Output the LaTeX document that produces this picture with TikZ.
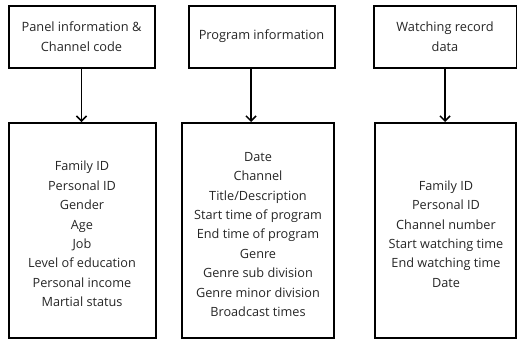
\documentclass[tikz,border=0pt]{standalone}
\usepackage{fontspec}
\setmainfont{Open Sans}
\usetikzlibrary{arrows.meta}

\tikzset{
    headbox/.style={draw, line width=2pt, minimum width=146pt, minimum height=62pt,
        align=center, inner sep=0pt, font=\fontsize{12.8}{20}\selectfont},
    listbox/.style={draw, line width=2pt, inner sep=0pt},
    listtext/.style={align=center, inner sep=0pt, text=black!85,
        font=\fontsize{12.7}{19.4}\selectfont},
    feed/.style={line width=1.5pt, -{Straight Barb[length=5pt,width=10pt,line width=1.5pt]}}
}

\begin{document}
\begin{tikzpicture}[x=1pt, y=-1pt]
    \useasboundingbox (0,0) rectangle (517,348);

    % Source boxes
    \node[headbox, text=black!85] (panel) at (81.5,36.5) {Panel information \&\\Channel code};
    \node[headbox, text=black!85] (program) at (261.5,36.5) {Program information};
    \node[headbox, text=black!85, minimum width=143pt] (watch) at (445,36.5) {Watching record\\data};

    % Item boxes
    \node[listbox, minimum width=147pt, minimum height=215pt] (panelbox) at (82.5,230.5) {};
    \node[listbox, minimum width=152pt, minimum height=215pt] (programbox) at (258,230.5) {};
    \node[listbox, minimum width=141pt, minimum height=215pt] (watchbox) at (445.5,230.5) {};

    % Item lists
    \node[listtext] (panellist) at (82,234)
        {Family ID\\Personal ID\\Gender\\Age\\Job\\Level of education\\Personal income\\Martial status};
    \node[listtext] (programlist) at (258,234.5)
        {Date\\Channel\\Title/Description\\Start time of program\\End time of program\\Genre\\Genre sub division\\Genre minor division\\Broadcast times};
    \node[listtext] (watchlist) at (446,234)
        {Family ID\\Personal ID\\Channel number\\Start watching time\\End watching time\\Date};

    % Arrows
    \draw[feed] (panel.south) -- (panel.south |- panelbox.north);
    \draw[feed] ([xshift=-10.5pt]program.south) -- ([xshift=-10.5pt]program.south |- programbox.north);
    \draw[feed] (watch.south) -- (watch.south |- watchbox.north);
\end{tikzpicture}
\end{document}
